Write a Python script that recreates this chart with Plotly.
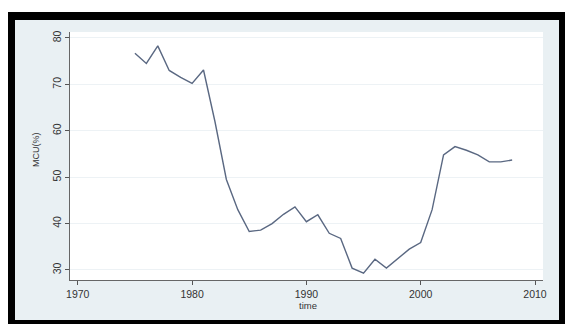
import plotly.graph_objects as go

years = list(range(1975, 2009))
mcu = [76.7, 74.5, 78.3, 73.0, 71.5, 70.2, 73.1, 62.0, 49.5, 43.0,
       38.3, 38.6, 40.0, 42.0, 43.6, 40.4, 41.9, 37.9, 36.8, 30.4,
       29.3, 32.3, 30.4, 32.5, 34.5, 35.9, 43.0, 54.8, 56.6, 55.8,
       54.8, 53.3, 53.3, 53.7]
x_ticks = [1970, 1980, 1990, 2000, 2010]
y_ticks = [30, 40, 50, 60, 70, 80]

W, H = 565, 324
L, R, T, B = 70, 22, 32, 44
pw, ph = W - L - R, H - T - B

def fx(px):
    return (px - L) / pw

def fy(py):
    return (H - B - py) / ph

fig = go.Figure()
fig.add_trace(go.Scatter(x=years, y=mcu, mode="lines",
                         line=dict(color="#5a6882", width=1.4),
                         showlegend=False, hoverinfo="skip"))

shapes = [
    dict(type="rect", xref="paper", yref="paper", x0=fx(8), x1=fx(566), y0=fy(12), y1=fy(325),
         fillcolor="black", line=dict(width=0), layer="below"),
    dict(type="rect", xref="paper", yref="paper", x0=fx(15), x1=fx(559), y0=fy(20), y1=fy(320),
         fillcolor="#e9f0f3", line=dict(width=0), layer="below"),
    dict(type="rect", xref="paper", yref="paper", x0=0, x1=1, y0=0, y1=1,
         fillcolor="white", line=dict(width=0), layer="below"),
]

fig.update_layout(
    width=W, height=H,
    margin=dict(l=L, r=R, t=T, b=B),
    paper_bgcolor="white",
    plot_bgcolor="rgba(0,0,0,0)",
    shapes=shapes,
    font=dict(family="Liberation Sans, Arial, sans-serif", size=10, color="#3a3a3a"),
    xaxis=dict(range=[1969.32, 2010.7], tickvals=x_ticks, ticks="outside", ticklen=4,
               tickcolor="#555", showline=True, linecolor="#666", linewidth=1,
               showgrid=False, zeroline=False, tickfont=dict(size=10.5, color="#333")),
    yaxis=dict(range=[27.84, 81.29], tickvals=y_ticks, ticks="outside", ticklen=4,
               tickcolor="#555", showline=True, linecolor="#666", linewidth=1,
               showgrid=True, gridcolor="#edf2f5", gridwidth=1, zeroline=False,
               tickangle=-90, tickfont=dict(size=10.5, color="#333")),
    annotations=[
        dict(text="MCU(%)", xref="paper", yref="paper", x=fx(36), y=fy(150),
             xanchor="center", yanchor="middle",
             textangle=-90, showarrow=False, font=dict(size=9, color="#333")),
        dict(text="time", xref="paper", yref="paper", x=fx(308), y=fy(305),
             xanchor="center", yanchor="middle",
             showarrow=False, font=dict(size=9.5, color="#333")),
    ],
)

fig.write_html("out.html")
